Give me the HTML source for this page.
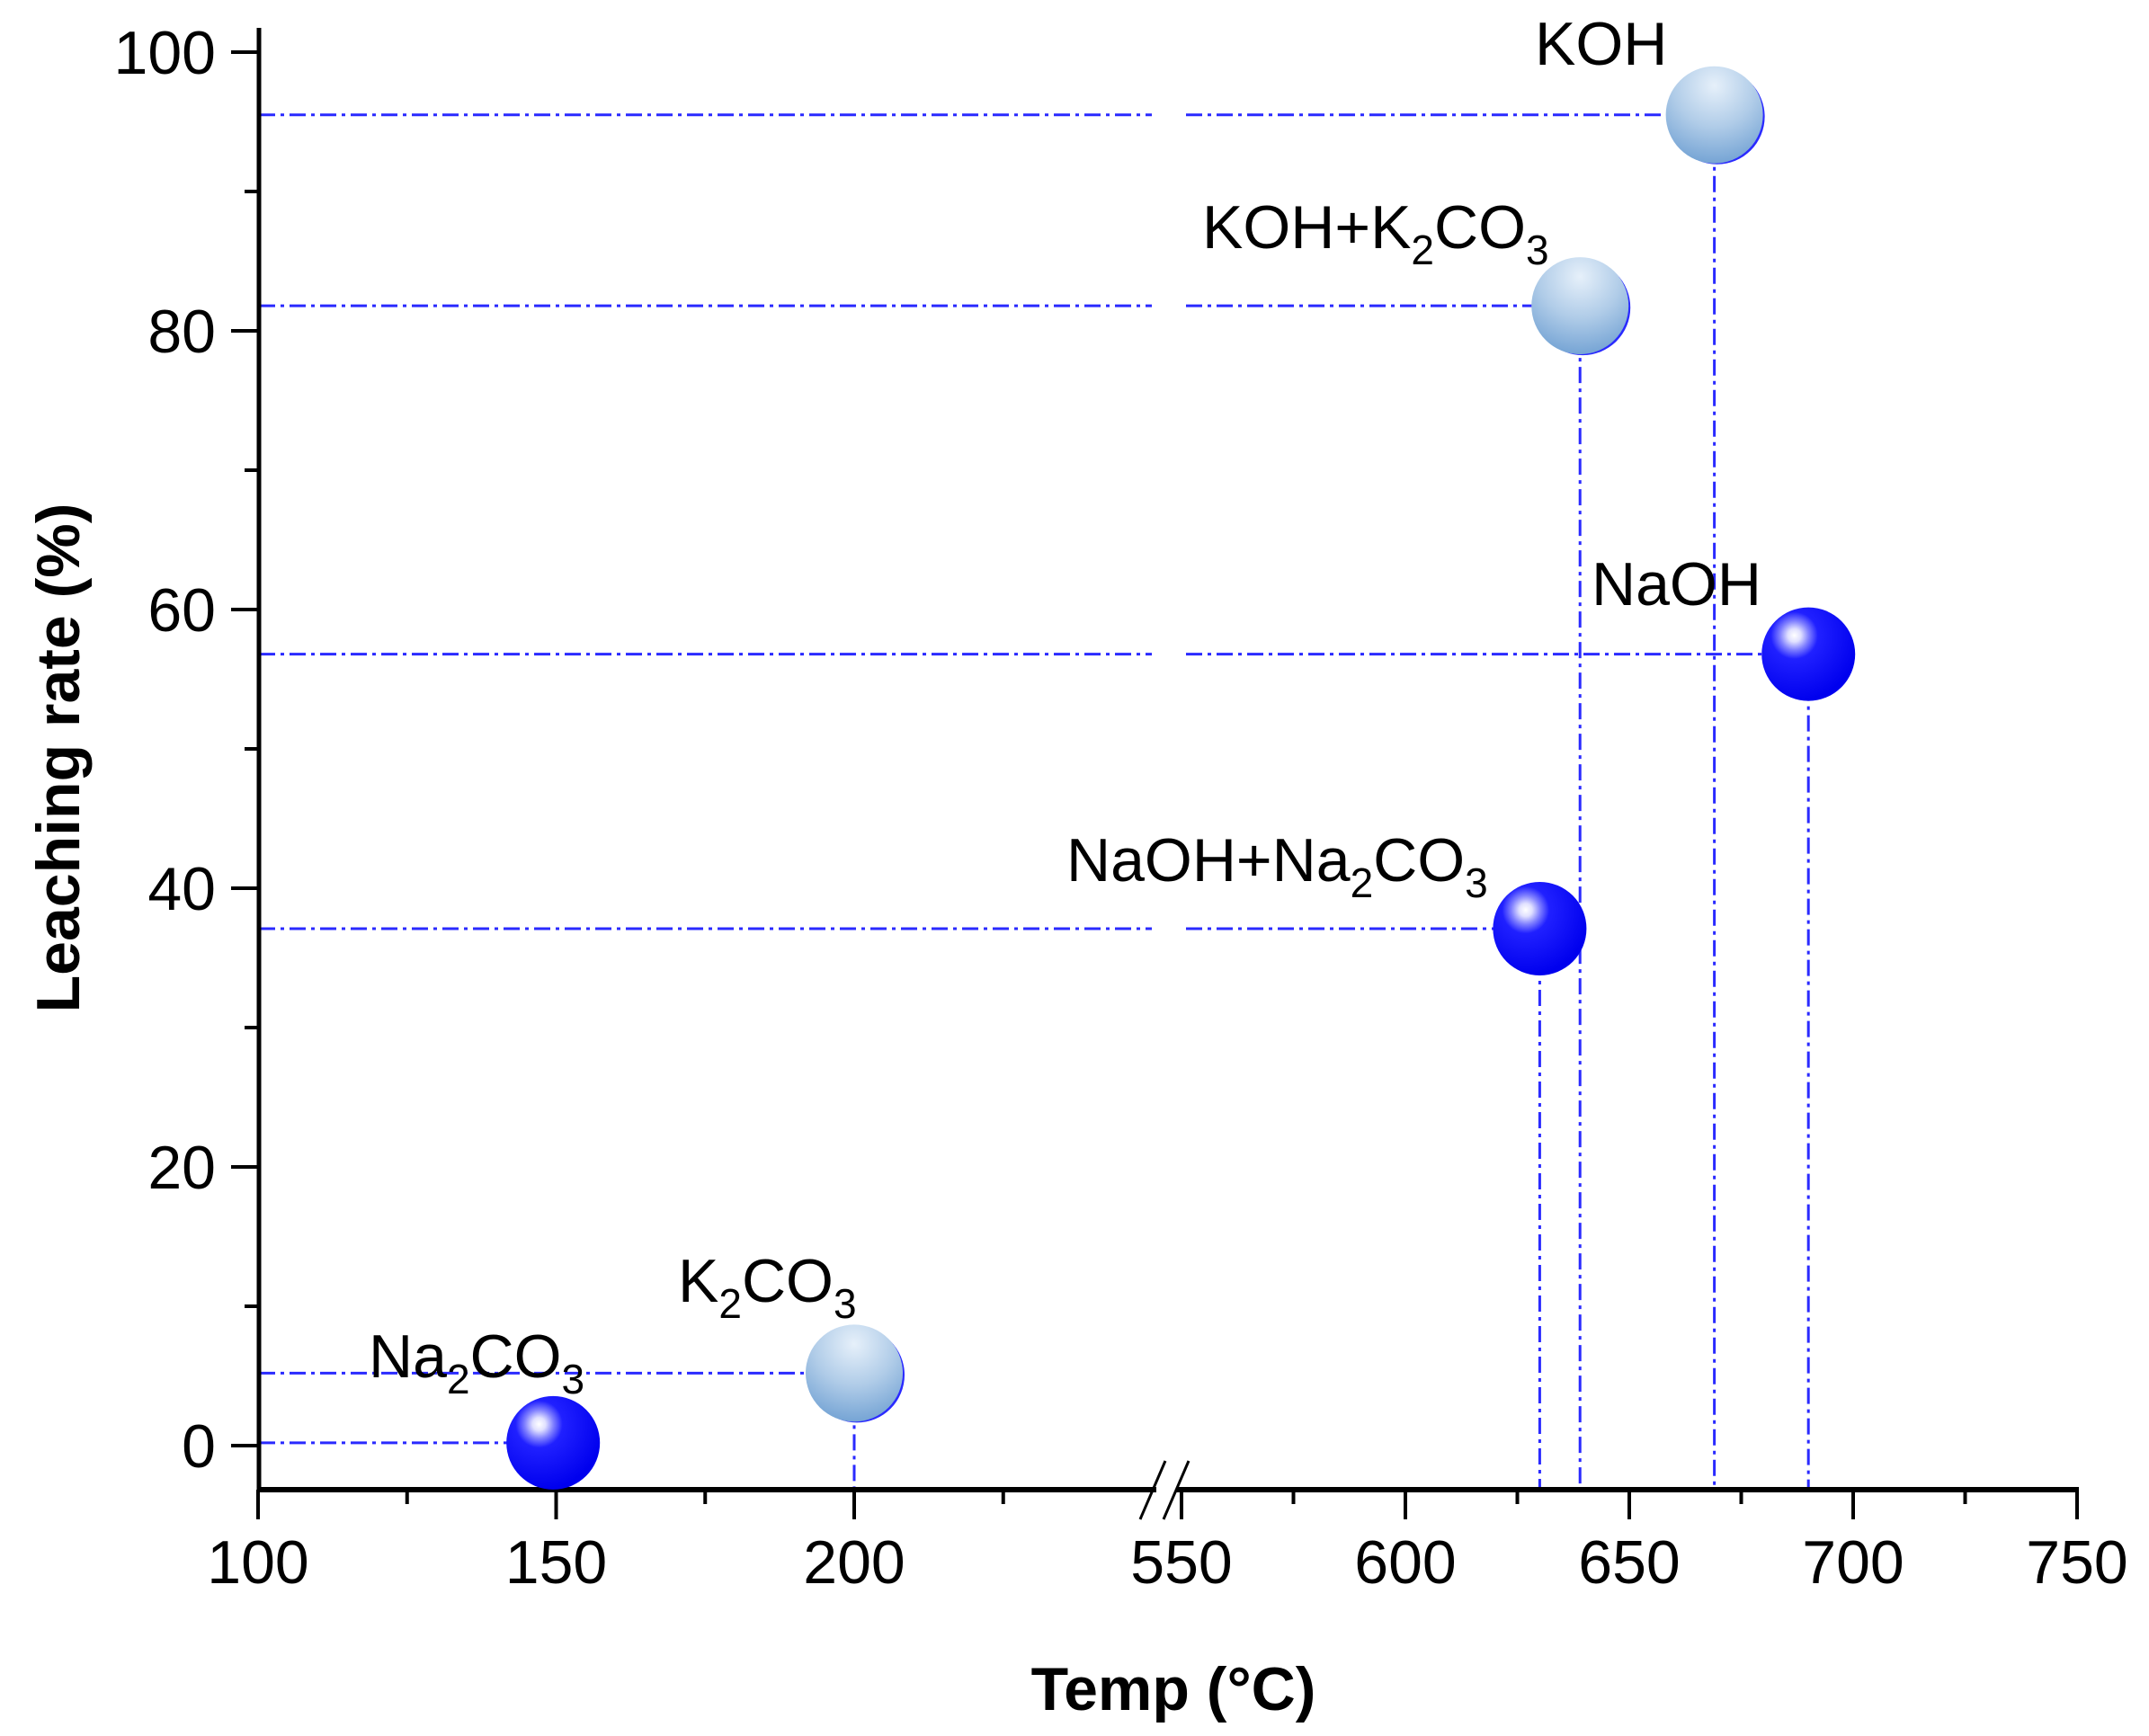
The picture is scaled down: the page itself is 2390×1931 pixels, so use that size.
<!DOCTYPE html>
<html><head><meta charset="utf-8"><style>
html,body{margin:0;padding:0;background:#fff;}
svg{display:block;font-family:"Liberation Sans",Arial,sans-serif;}
</style></head><body>
<svg id="chart" width="2390" height="1931" viewBox="0 0 2390 1931">
<defs>
<radialGradient id="gDark" cx="0.35" cy="0.3" r="0.7">
<stop offset="0" stop-color="#ffffff"/><stop offset="0.1" stop-color="#e0e0ff"/><stop offset="0.22" stop-color="#8080ff"/><stop offset="0.36" stop-color="#2020ff"/><stop offset="1" stop-color="#0000ee"/>
</radialGradient>
<radialGradient id="gLight" cx="0.5" cy="0.2" r="0.85">
<stop offset="0" stop-color="#e6f0fa"/><stop offset="0.5" stop-color="#b0cce8"/><stop offset="1" stop-color="#6e9fd2"/>
</radialGradient>
</defs>
<g id="grid"></g>
<g id="axes"></g>
<g id="marks"></g>
<g id="labels"></g>
<text x="1305" y="1902" font-size="68" font-weight="bold" text-anchor="middle">Temp (°C)</text>
<text transform="translate(88,843) rotate(-90)" font-size="68" font-weight="bold" text-anchor="middle">Leaching rate (%)</text>
</svg>
<script>
const names = ["Na2CO3","K2CO3","NaOH+Na2CO3","KOH+K2CO3","KOH","NaOH"];
const temps = [149.5, 200, 630, 639, 669, 690];
const rates = [0.2, 5.2, 37.1, 81.8, 95.5, 56.8];
const styles = ["dark","light","dark","light","light","dark"];
const yTicks = [0,20,40,60,80,100];
const xTicksLeft = [100,150,200];
const xTicksRight = [550,600,650,700,750];

const NS="http://www.w3.org/2000/svg";
function mk(tag, attrs, parent){const e=document.createElementNS(NS,tag);for(const k in attrs)e.setAttribute(k,attrs[k]);parent.appendChild(e);return e;}
const X0=288, YB=1657, BR1=1281, BR2=1314;
function xs(v){ return v<=250 ? 287+(v-100)*6.63 : 1314+(v-550)*4.98; }
function ys(v){ return 1608-v*15.5; }

const axes=document.getElementById('axes');
const grid=document.getElementById('grid');
const marks=document.getElementById('marks');
const labels=document.getElementById('labels');

let a=mk('line',{x1:X0,y1:31,x2:X0,y2:YB+2,stroke:'#000','stroke-width':5},axes);


a=mk('line',{x1:X0-2,y1:YB,x2:1286,y2:YB,stroke:'#000','stroke-width':6},axes);


a=mk('line',{x1:1308,y1:YB,x2:2312,y2:YB,stroke:'#000','stroke-width':6},axes);


[[1268,1296],[1294,1322]].forEach(function(p){
  const b=mk('line',{x1:p[0],y1:1690,x2:p[1],y2:1625,stroke:'#000','stroke-width':3},axes);
  
  
});
yTicks.forEach(function(v){
  const t=mk('line',{x1:X0-31,y1:ys(v),x2:X0,y2:ys(v),stroke:'#000','stroke-width':4},axes);
  
  
  const l=mk('text',{x:X0-48,y:ys(v)+24,'font-size':68,'text-anchor':'end'},axes);
  l.textContent=v;
  
  
});
for(let v=10;v<=90;v+=20){
  const t=mk('line',{x1:X0-16,y1:ys(v),x2:X0,y2:ys(v),stroke:'#000','stroke-width':4},axes);
  
  
}
xTicksLeft.concat(xTicksRight).forEach(function(v){
  const t=mk('line',{x1:xs(v),y1:YB,x2:xs(v),y2:1690,stroke:'#000','stroke-width':4},axes);
  
  
  const l=mk('text',{x:xs(v),y:1761,'font-size':68,'text-anchor':'middle'},axes);
  l.textContent=v;
  
  
});
[125,175,225,575,625,675,725].forEach(function(v){
  const t=mk('line',{x1:xs(v),y1:YB,x2:xs(v),y2:1673,stroke:'#000','stroke-width':4},axes);
  
  
});
const dash={stroke:'#2a2aff','stroke-width':3,'stroke-dasharray':'18 6 4 6'};
temps.forEach(function(tv,i){
  const px=xs(tv), py=ys(rates[i]);
  function hl(x1,x2){
    if(x2<=x1) return;
    const h=mk('line',Object.assign({x1:x1,y1:py,x2:x2,y2:py},dash),grid);
    
    
  }
  if(px>BR2){ hl(X0,BR1); hl(BR2+5,px); } else { hl(X0,px); }
  if(i>0){
    const v=mk('line',Object.assign({x1:px,y1:py,x2:px,y2:YB},dash),grid);
    
    
  }
});
temps.forEach(function(tv,i){
  const px=xs(tv), py=ys(rates[i]);
  const g=mk('g',{},marks);
  
  
  if(styles[i]==='light'){
    mk('circle',{cx:px+3,cy:py+2,r:53,fill:'#2a2aff'},g);
    mk('circle',{cx:px,cy:py,r:54,fill:'url(#gLight)'},g);
  } else {
    mk('circle',{cx:px,cy:py,r:52,fill:'url(#gDark)'},g);
  }
});
const labelX=[410,754,1186,1337,1707,1770];
const labelY=[1532,1448,980,276,72,673];
const labelParts=[["Na","2","CO","3"],["K","2","CO","3"],["NaOH+Na","2","CO","3"],["KOH+K","2","CO","3"],["KOH"],["NaOH"]];
labelParts.forEach(function(parts,i){
  const t=mk('text',{x:labelX[i],y:labelY[i],'font-size':68},labels);
  
  
  parts.forEach(function(p,j){
    const s=mk('tspan',{},t);
    if(j%2===1){ s.setAttribute('font-size',46); s.setAttribute('dy',18); }
    else if(j>0){ s.setAttribute('dy',-18); }
    s.textContent=p;
  });
});
</script>
</body></html>
